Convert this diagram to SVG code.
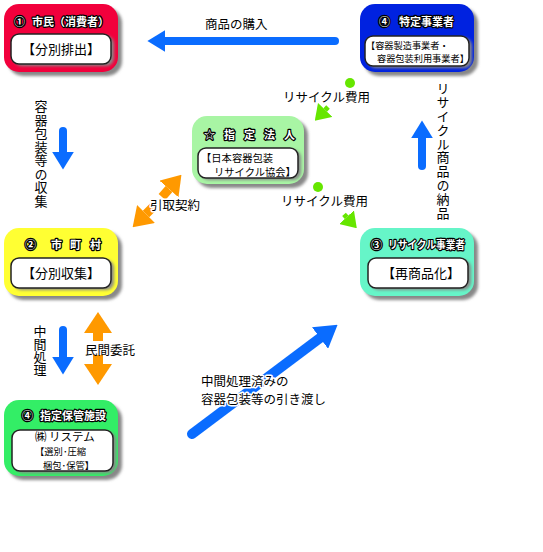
<svg xmlns="http://www.w3.org/2000/svg" width="543" height="552" viewBox="0 0 543 552">
<defs>
<style>
text{font-family:"Noto Sans CJK JP","Noto Sans",sans-serif;fill:#000}
.title{font-size:11px;font-weight:bold;fill:#fff;stroke:#000;stroke-width:2.4px;paint-order:stroke;stroke-linejoin:round}
.inner{font-size:13px}
.small{font-size:9.2px}
.lbl{font-size:12.5px}
.vert{writing-mode:vertical-rl;font-size:13px}
.halo{stroke:#fff;stroke-width:3px;paint-order:stroke;stroke-linejoin:round}
.shadow{fill:#888;filter:url(#blur)}
.box{fill:#fff;stroke:#222;stroke-width:1.5}
.blue{stroke:#0a6cff;fill:none;stroke-linecap:round}
.orange{stroke:#ff9900;fill:none}
.lime{stroke:#66e600;fill:none}
</style>
<filter id="blur" x="-20%" y="-20%" width="140%" height="140%"><feGaussianBlur stdDeviation="1.6"/></filter>
<marker id="hb" viewBox="0 0 10 10" refX="0" refY="5" markerWidth="2.2" markerHeight="2.7" orient="auto" preserveAspectRatio="none"><path d="M0,0 L10,5 L0,10 z" fill="#0a6cff"/></marker>
<marker id="ho" viewBox="0 0 10 10" refX="0" refY="5" markerWidth="2.1" markerHeight="2.8" orient="auto" preserveAspectRatio="none"><path d="M0,0 L10,5 L0,10 z" fill="#ff9900"/></marker>
<marker id="hg" viewBox="0 0 10 10" refX="0" refY="5" markerWidth="3" markerHeight="4" orient="auto" preserveAspectRatio="none"><path d="M0,0 L10,5 L0,10 z" fill="#66e600"/></marker>
</defs>
<rect width="543" height="552" fill="#fff"/>

<g id="connectors">
  <line class="blue" x1="335" y1="41" x2="165" y2="41" stroke-width="8" marker-end="url(#hb)"/>
  <line class="blue" x1="63" y1="131" x2="63" y2="152" stroke-width="8" marker-end="url(#hb)"/>
  <line class="blue" x1="63" y1="330" x2="63" y2="357" stroke-width="8" marker-end="url(#hb)"/>
  <line class="blue" x1="422" y1="166" x2="422" y2="138" stroke-width="8" marker-end="url(#hb)"/>
  <line class="blue" x1="192" y1="434" x2="320" y2="338" stroke-width="10" marker-end="url(#hb)"/>
  <line class="orange" x1="98" y1="341" x2="98" y2="333" stroke-width="10" marker-end="url(#ho)"/>
  <line class="orange" x1="98" y1="355" x2="98" y2="364" stroke-width="10" marker-end="url(#ho)"/>
  <line class="orange" x1="162" y1="197" x2="169" y2="189" stroke-width="9" marker-end="url(#ho)"/>
  <line class="orange" x1="153" y1="207" x2="146" y2="214" stroke-width="9" marker-end="url(#ho)"/>
  <circle cx="350" cy="83" r="5" fill="#66e600"/>
  <line class="lime" x1="328" y1="107" x2="325.2" y2="109.9" stroke-width="5" marker-end="url(#hg)"/>
  <circle cx="318" cy="187" r="5" fill="#66e600"/>
  <line class="lime" x1="344" y1="214.4" x2="346.6" y2="217.2" stroke-width="5" marker-end="url(#hg)"/>
  <text class="lbl" x="205" y="29">商品の購入</text>
  <text class="lbl" x="283" y="102" font-size="12">リサイクル費用</text>
  <text class="lbl" x="281" y="206" font-size="12">リサイクル費用</text>
  <text class="lbl halo" x="150" y="210">引取契約</text>
  <text class="lbl" x="85" y="355">民間委託</text>
  <text class="lbl halo" x="201" y="385.5" font-size="12">中間処理済みの</text>
  <text class="lbl halo" x="201" y="403.5" font-size="12">容器包装等の引き渡し</text>
  <text class="vert" x="41" y="100" letter-spacing="0.5">容器包装等の収集</text>
  <text class="vert" x="40" y="325" font-size="12.5">中間処理</text>
  <text class="vert" x="443" y="82" letter-spacing="0.8">リサイクル商品の納品</text>
</g>

<g id="citizen">
  <rect class="shadow" x="8" y="8" width="114" height="68" rx="15"/>
  <rect x="4" y="4" width="114" height="68" rx="15" fill="#f2003c"/>
  <rect class="shadow" x="14" y="36" width="100" height="30" rx="8"/>
  <rect class="box" x="11" y="34" width="100" height="30" rx="8"/>
  <text class="title" y="26"><tspan x="14">①</tspan><tspan x="32">市民（消費者）</tspan></text>
  <text class="inner" x="61" y="54" text-anchor="middle">【分別排出】</text>
</g>

<g id="producer">
  <rect class="shadow" x="364" y="8" width="114" height="68" rx="15"/>
  <rect x="360" y="4" width="114" height="68" rx="15" fill="#0022e0"/>
  <rect class="shadow" x="368" y="38" width="104" height="30" rx="8"/>
  <rect class="box" x="365" y="36" width="104" height="30" rx="8"/>
  <text class="title" y="26" font-size="11.5"><tspan x="379">④</tspan><tspan x="399">特定事業者</tspan></text>
  <text class="small" x="366" y="49">【容器製造事業者・</text>
  <text class="small" x="377" y="62">容器包装利用事業者】</text>
</g>

<g id="corp">
  <rect class="shadow" x="196" y="120" width="112" height="68" rx="15"/>
  <rect x="192" y="116" width="112" height="68" rx="15" fill="#a8f5a4"/>
  <rect class="shadow" x="201" y="150" width="100" height="30" rx="8"/>
  <rect class="box" x="198" y="148" width="100" height="30" rx="8"/>
  <text class="title" x="204 224 244 264 284" y="139" font-size="11.5">☆指定法人</text>
  <text x="201" y="162" font-size="10.3">【日本容器包装</text>
  <text x="214" y="176" font-size="10.3">リサイクル協会】</text>
</g>

<g id="municipality">
  <rect class="shadow" x="8" y="232" width="114" height="68" rx="15"/>
  <rect x="4" y="228" width="114" height="68" rx="15" fill="#ffff33"/>
  <rect class="shadow" x="14" y="260" width="100" height="30" rx="8"/>
  <rect class="box" x="11" y="258" width="100" height="30" rx="8"/>
  <text class="title" x="25 51 70 90" y="249">②市町村</text>
  <text class="inner" x="61" y="278" text-anchor="middle">【分別収集】</text>
</g>

<g id="recycler">
  <rect class="shadow" x="364" y="232" width="114" height="68" rx="15"/>
  <rect x="360" y="228" width="114" height="68" rx="15" fill="#66f5c8"/>
  <rect class="shadow" x="371" y="260" width="100" height="30" rx="8"/>
  <rect class="box" x="368" y="258" width="100" height="30" rx="8"/>
  <text class="title" y="249"><tspan x="371">③</tspan><tspan x="388" textLength="77" lengthAdjust="spacingAndGlyphs">リサイクル事業者</tspan></text>
  <text class="inner" x="421" y="278" text-anchor="middle">【再商品化】</text>
</g>

<g id="storage">
  <rect class="shadow" x="8" y="404" width="114" height="76" rx="15"/>
  <rect x="4" y="400" width="114" height="76" rx="15" fill="#33ee66"/>
  <rect class="shadow" x="15" y="432" width="101" height="41" rx="8"/>
  <rect class="box" x="12" y="430" width="101" height="41" rx="8"/>
  <text class="title" y="420" font-size="11.3"><tspan x="22">④</tspan><tspan x="40">指定保管施設</tspan></text>
  <text x="35" y="441" font-size="11.5">㈱ リステム</text>
  <text x="35" y="455" font-size="9.3">【選別･圧縮</text>
  <text x="43" y="469" font-size="9.3">梱包･保管】</text>
</g>
</svg>
